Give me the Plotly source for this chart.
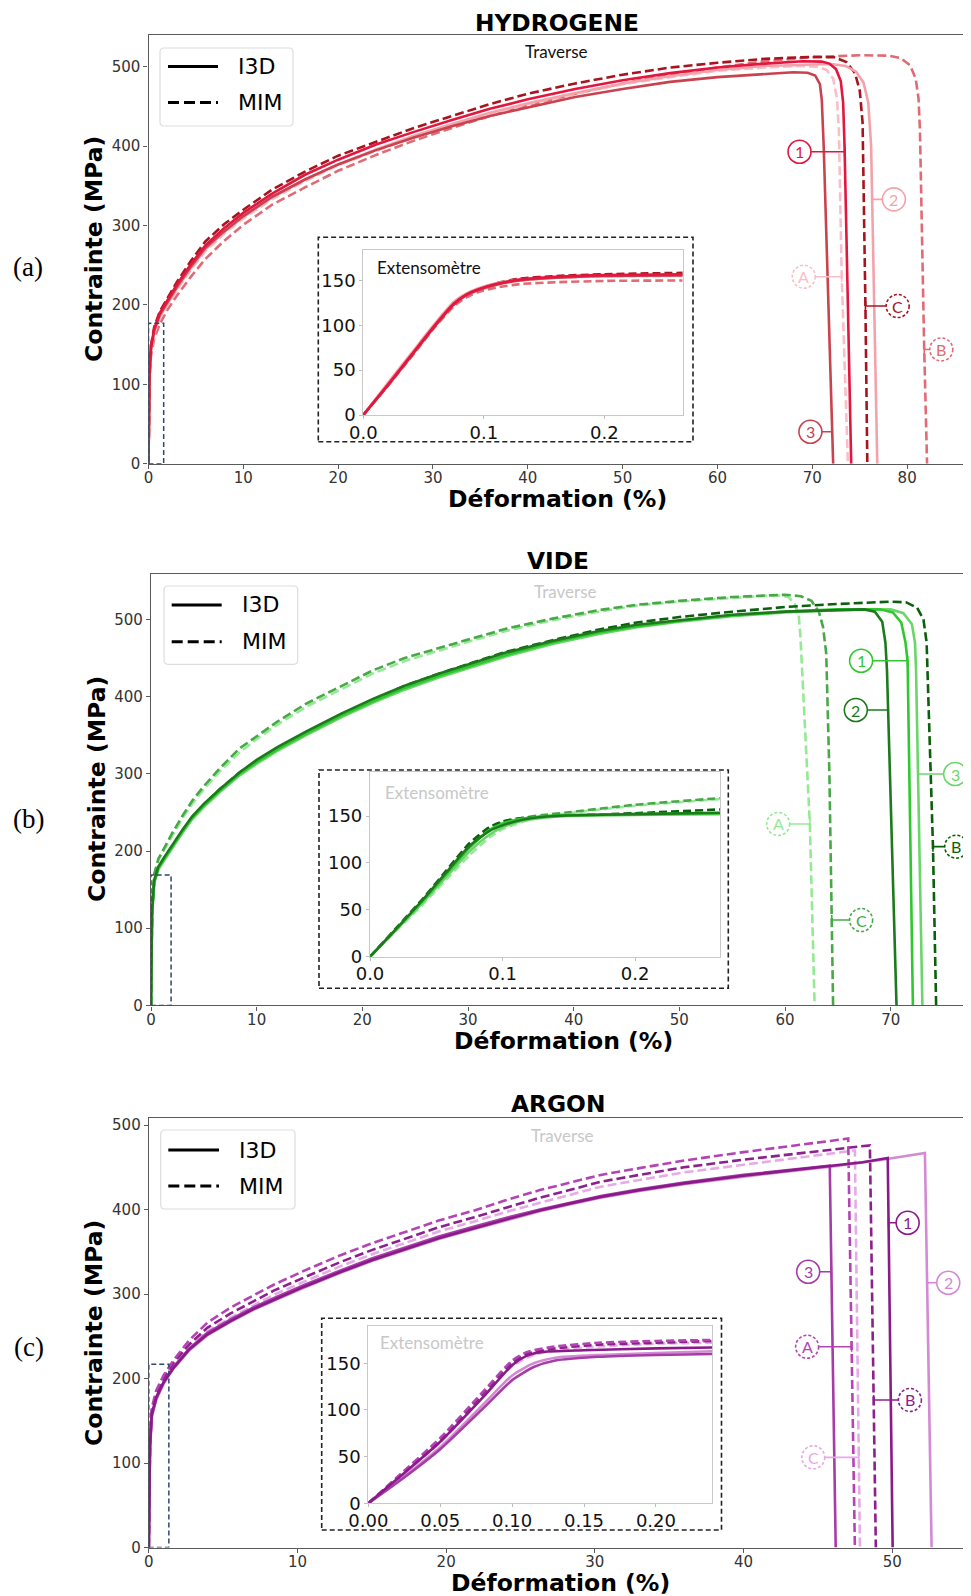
import numpy as np
import plotly.graph_objects as go

# target picture is 971 x 1596; the page body adds an 8 px margin, so the figure is
# drawn 8 px smaller and every reference position is shifted by that offset
REF_W, REF_H = 971, 1596
OFF = 8
W, H = REF_W - OFF, REF_H - OFF

# ---------------- DATA : HYDROGENE (a) ----------------
H_I3D_1 = [[0,0],[0.1,112],[0.25,146],[0.6,170],[1.2,190],[2,206],[3,226],[4.5,252],[6,275],[8,297],[10,316],[13,340],[16.5,364],[20,383],[24,402],[28,418],[32,433],[36,447],[40,459],[45,472],[50,483],[55,492],[60,499],[65,504],[69,507],[71,506.5],[71.8,504],[72.5,497],[73.0,482],[73.25,455],[73.4,400],[73.75,200],[74.1,0]]
H_I3D_2 = [[0,0],[0.1,108],[0.25,142],[0.6,166],[1.2,186],[2,202],[3,221],[4.5,247],[6,270],[8,292],[10,311],[13,335],[16.5,358],[20,377],[24,396],[28,413],[32,428],[36,442],[40,454],[45,467],[50,479],[55,488],[60,496],[65,501],[70,503],[72,503.5],[73.5,501],[74.6,494],[75.4,480],[75.9,455],[76.2,400],[76.3,333],[76.85,0]]
H_I3D_3 = [[0,0],[0.1,110],[0.25,144],[0.6,168],[1.2,188],[2,204],[3,223],[4.5,249],[6,272],[8,293],[10,312],[13,336],[16.5,358],[20,377],[24,395],[28,411],[32,425],[36,438],[40,449],[45,462],[50,472],[55,481],[60,487],[65,491],[68,493],[69.5,492.5],[70.3,489],[70.8,478],[71.0,458],[71.2,400],[72.2,0]]
H_MIM_A = [[0,0],[0.1,106],[0.25,140],[0.6,164],[1.2,184],[2,200],[3,219],[4.5,245],[6,268],[8,290],[10,309],[13,333],[16.5,356],[20,376],[24,394],[28,411],[32,426],[36,440],[40,453],[45,466],[50,478],[55,487],[60,495],[65,499],[68.5,501],[70.5,500],[71.5,496],[72.2,485],[72.6,460],[72.8,420],[73.1,236],[73.75,0]]
H_MIM_B = [[0,0],[0.1,100],[0.25,135],[0.6,158],[1.2,176],[2,194],[3,212],[4.5,236],[6,258],[8,281],[10,301],[13,326],[16.5,348],[20,369],[24,389],[28,407],[32,423],[36,438],[40,451],[45,466],[50,479],[55,490],[60,499],[65,507],[70,512],[75,514.5],[78,514],[79.3,511],[80.3,502],[80.9,485],[81.2,460],[81.35,420],[81.8,144],[82.1,0]]
H_MIM_C = [[0,0],[0.1,114],[0.25,148],[0.6,172],[1.2,192],[2,208],[3,229],[4.5,256],[6,280],[8,302],[10,320],[13,345],[16.5,368],[20,388],[24,406],[28,423],[32,438],[36,453],[40,466],[45,479],[50,490],[55,499],[60,505],[65,510],[70,512.5],[72.3,512],[73.6,506],[74.5,492],[75.0,470],[75.3,430],[75.6,199],[75.8,0]]

HI_I3D_1 = [[0,0],[0.02,33],[0.04,67],[0.06,101],[0.075,124],[0.085,134],[0.095,140],[0.11,146],[0.13,151],[0.16,154],[0.2,156],[0.265,157]]
HI_I3D_2 = [[0,0],[0.02,35],[0.04,69],[0.06,103],[0.075,126],[0.085,135],[0.095,141],[0.11,147],[0.13,151],[0.16,153],[0.2,155],[0.265,156]]
HI_I3D_3 = [[0,0],[0.02,32],[0.04,66],[0.06,100],[0.075,123],[0.085,133],[0.095,139],[0.11,145],[0.13,150],[0.16,153],[0.2,155],[0.265,155.5]]
HI_MIM_A = [[0,0],[0.02,34],[0.04,68],[0.06,102],[0.075,125],[0.085,134],[0.095,140],[0.11,146],[0.13,150],[0.16,153],[0.2,154.5],[0.265,155]]
HI_MIM_B = [[0,0],[0.02,32],[0.04,65],[0.06,99],[0.075,121],[0.085,131],[0.095,137],[0.11,142],[0.13,146],[0.16,148],[0.2,149.5],[0.265,150]]
HI_MIM_C = [[0,0],[0.02,33],[0.04,67],[0.06,101],[0.075,124],[0.085,134],[0.095,140],[0.11,147],[0.13,152],[0.16,155],[0.2,157],[0.265,158.5]]

# ---------------- DATA : VIDE (b) ----------------
V_I3D_1 = [[0,0],[0.1,120],[0.3,160],[0.7,178],[1.3,191],[2,206],[3,226],[3.9,243],[5,259],[6.5,278],[8.4,300],[10,315],[12,332],[14.7,352],[18,375],[21,394],[24,411],[27.3,427],[30.5,441],[33.6,454],[38,470],[42.4,483],[46,491],[50,498],[55,505],[60,510],[65,513],[69,513],[70.2,509],[71.0,496],[71.4,470],[71.6,446],[72.1,0]]
V_I3D_2 = [[0,0],[0.1,122],[0.3,162],[0.7,180],[1.3,193],[2,208],[3,228],[3.9,245],[5,261],[6.5,280],[8.4,302],[10,318],[12,335],[14.7,355],[18,378],[21,397],[24,414],[27.3,430],[30.5,444],[33.6,457],[38,472],[42.4,485],[46,493],[50,499],[55,506],[60,510],[65,512],[67.5,513],[68.5,510],[69.2,497],[69.5,470],[69.65,434],[70.55,0]]
V_I3D_3 = [[0,0],[0.1,118],[0.3,158],[0.7,176],[1.3,189],[2,204],[3,224],[3.9,241],[5,257],[6.5,276],[8.4,298],[10,313],[12,330],[14.7,350],[18,373],[21,392],[24,409],[27.3,425],[30.5,439],[33.6,452],[38,468],[42.4,481],[46,490],[50,497],[55,504],[60,509],[65,512],[70,513],[71.2,508],[72.0,494],[72.3,470],[72.4,434],[73.0,0]]
V_MIM_A = [[0,0],[0.1,125],[0.3,168],[0.7,188],[1.3,203],[2,220],[3,243],[3.95,262],[5,280],[6.5,303],[8.4,328],[10,345],[12,364],[14.7,387],[18,410],[21,430],[24,446],[27.3,460],[30.5,473],[33.6,485],[38,499],[42.4,510],[46,518],[50,523],[55,528],[58,530.5],[59.5,531],[60.3,529],[60.9,521],[61.3,505],[61.45,480],[62.35,235],[62.8,0]]
V_MIM_B = [[0,0],[0.1,120],[0.3,160],[0.7,178],[1.3,192],[2,207],[3,227],[3.9,244],[5,260],[6.5,280],[8.4,302],[10,317],[12,334],[14.7,354],[18,377],[21,396],[24,414],[27.3,430],[30.5,444],[33.6,458],[38,473],[42.4,487],[46,496],[50,503],[55,510],[60,516],[65,520],[70,523],[71.5,522],[72.5,515],[73.1,500],[73.4,470],[74.0,206],[74.3,0]]
V_MIM_C = [[0,0],[0.1,127],[0.3,170],[0.7,190],[1.3,205],[2,223],[3,246],[3.95,266],[5,284],[6.5,307],[8.4,333],[10,349],[12,368],[14.7,391],[18,414],[21,434],[24,450],[27.3,463],[30.5,476],[33.6,488],[38,501],[42.4,512],[46,519],[50,524],[55,529],[58,531],[60,532],[61.5,530],[62.5,524],[63.2,510],[63.6,490],[63.9,456],[64.2,300],[64.55,0]]

VI_I3D_1 = [[0,0],[0.02,30],[0.04,60],[0.06,92],[0.075,116],[0.09,135],[0.1,142],[0.11,146],[0.125,149],[0.15,151],[0.2,152],[0.264,153]]
VI_I3D_2 = [[0,0],[0.02,30],[0.04,61],[0.06,94],[0.075,118],[0.09,134],[0.1,140],[0.115,146],[0.13,149],[0.15,150.5],[0.2,152],[0.264,153.5]]
VI_I3D_3 = [[0,0],[0.02,29],[0.04,58],[0.06,89],[0.075,112],[0.09,130],[0.1,138],[0.115,145],[0.13,148],[0.15,150],[0.2,151],[0.264,152]]
VI_MIM_A = [[0,0],[0.02,28],[0.04,56],[0.06,86],[0.075,108],[0.09,127],[0.1,136],[0.115,144],[0.13,149],[0.15,153],[0.2,161],[0.264,168]]
VI_MIM_B = [[0,0],[0.02,31],[0.04,62],[0.06,96],[0.075,121],[0.09,138],[0.1,144],[0.11,147],[0.125,149],[0.15,150.5],[0.2,153],[0.264,157]]
VI_MIM_C = [[0,0],[0.02,30],[0.04,60],[0.06,93],[0.075,117],[0.09,136],[0.1,143],[0.115,148],[0.13,151],[0.15,154],[0.2,162],[0.264,169]]

# ---------------- DATA : ARGON (c) ----------------
A_I3D_1 = [[0,0],[0.08,120],[0.2,158],[0.5,178],[1,196],[1.68,213],[2.7,234],[3.93,252],[5.5,268],[7,282],[8.4,293],[10.5,309],[12.9,326],[15,340],[17.4,354],[19.5,366],[21.9,378],[24,388],[26.3,399],[28.3,407],[30.4,415],[33,423],[36,431],[40,440],[43,446],[46,452],[48,456],[49.7,461],[50.03,0]]
A_I3D_2 = [[0,0],[0.08,115],[0.2,154],[0.5,175],[1,194],[1.68,212],[2.7,233],[3.93,251],[5.5,267],[7,281],[8.4,292],[10.5,308],[12.9,325],[15,339],[17.4,353],[19.5,365],[21.9,377],[24,387],[26.3,398],[28.3,406],[30.4,414],[33,422],[36,430],[40,439],[43,445],[46,451],[49,458],[52.2,467],[52.65,0]]
A_I3D_3 = [[0,0],[0.08,118],[0.2,156],[0.5,176],[1,195],[1.68,214],[2.7,235],[3.93,254],[5.5,270],[7,284],[8.4,295],[10.5,311],[12.9,328],[15,342],[17.4,356],[19.5,368],[21.9,380],[24,390],[26.3,400],[28.3,408],[30.4,416],[33,424],[36,432],[40,441],[43,447],[45.8,452],[46.2,0]]
A_MIM_A = [[0,0],[0.08,125],[0.2,165],[0.5,186],[1,204],[1.68,222],[2.7,245],[3.93,266],[5.5,284],[7,298],[8.4,311],[10.5,328],[12.9,346],[15,360],[17.4,374],[19.5,387],[21.9,399],[24,411],[26.3,423],[28.3,432],[30.4,441],[33,449],[36,458],[40,468],[43,475],[47.04,484],[47.49,0]]
A_MIM_B = [[0,0],[0.08,122],[0.2,162],[0.5,183],[1,201],[1.68,219],[2.7,240],[3.93,260],[5.5,277],[7,291],[8.4,304],[10.5,320],[12.9,338],[15,352],[17.4,366],[19.5,379],[21.9,391],[24,402],[26.3,414],[28.3,423],[30.4,433],[33,441],[36,450],[40,459],[43,465],[46,471],[48.5,476],[48.9,0]]
A_MIM_C = [[0,0],[0.08,118],[0.2,158],[0.5,179],[1,197],[1.68,215],[2.7,236],[3.93,256],[5.5,272],[7,286],[8.4,299],[10.5,315],[12.9,333],[15,347],[17.4,361],[19.5,374],[21.9,386],[24,397],[26.3,408],[28.3,417],[30.4,427],[33,435],[36,444],[40,453],[43,460],[47.49,470],[47.83,0]]

AI_I3D_1 = [[0,0],[0.02,26],[0.05,66],[0.08,114],[0.1,148],[0.11,158],[0.12,162],[0.15,164],[0.2,166],[0.239,167]]
AI_I3D_2 = [[0,0],[0.02,23],[0.05,60],[0.08,106],[0.1,137],[0.115,150],[0.13,156],[0.16,159],[0.2,161],[0.239,163]]
AI_I3D_3 = [[0,0],[0.02,22],[0.05,58],[0.08,102],[0.1,132],[0.115,146],[0.13,153],[0.16,157],[0.2,159],[0.239,160]]
AI_MIM_A = [[0,0],[0.02,28],[0.05,70],[0.08,120],[0.1,153],[0.11,162],[0.13,168],[0.16,172],[0.2,174],[0.239,175]]
AI_MIM_B = [[0,0],[0.02,27],[0.05,68],[0.08,118],[0.1,151],[0.11,160],[0.13,166],[0.16,170],[0.2,172],[0.239,174]]
AI_MIM_C = [[0,0],[0.02,26],[0.05,65],[0.08,115],[0.1,147],[0.115,159],[0.13,164],[0.16,168],[0.2,171],[0.239,172]]

# tick labels
MAIN_Y_TICKS = [0, 100, 200, 300, 400, 500]
INSET_Y_TICKS = [0, 50, 100, 150]
INSET_X_TICKS_AB = [0.0, 0.1, 0.2]
INSET_X_TICKS_C = [0.0, 0.05, 0.10, 0.15, 0.20]

# colours
H_COL = {"1": "#e2163f", "2": "#f3a2ab", "3": "#c9434f", "A": "#f9bec7", "B": "#e06b74", "C": "#a8141e"}
V_COL = {"1": "#2fc82f", "2": "#1c7a1c", "3": "#6ad66a", "A": "#94ea94", "B": "#0b600b", "C": "#48a848"}
A_COL = {"1": "#8a1a88", "2": "#d38ad3", "3": "#a63ca6", "A": "#b444b4", "B": "#8c208c", "C": "#e6aae6"}

# label circle positions (strain, stress) per panel
H_LABELS = [("1", 68.65, 393), ("2", 78.6, 333), ("3", 69.8, 40.4), ("A", 69.1, 235.6), ("C", 79.0, 198.7), ("B", 83.6, 144)]
V_LABELS = [("1", 67.2, 446.5), ("2", 66.7, 382.6), ("3", 76.1, 299.7), ("A", 59.35, 235), ("C", 67.2, 110.6), ("B", 76.2, 205.6)]
A_LABELS = [("1", 51.04, 384.4), ("2", 53.77, 313.4), ("3", 44.35, 326.4), ("A", 44.28, 237.6), ("B", 51.19, 174.6), ("C", 44.69, 106.7)]

# zoom-area rectangles (strain max, stress max)
ZOOM_BOX = {"a": (1.6, 177), "b": (1.9, 169), "c": (1.35, 217)}

PANEL_TITLES = {"a": "HYDROGENE", "b": "VIDE", "c": "ARGON"}


def PX(x):
    return (x - OFF) / W


def PY(y):
    return 1 - (y - OFF) / H


panels = [
    dict(key="a", tag="(a)", xa="x", ya="y", xi="x2", yi="y2",
         main=dict(l=148.5, r=965, t=35, b=463.8, xr=86.1, yr=540, xt=list(range(0, 90, 10))),
         inset=dict(l=363.3, r=682.7, t=250, b=415, xr=0.265, yr=184, xt=INSET_X_TICKS_AB, fmt="%.1f"),
         dbox=(318.3, 693, 237.3, 441.7),
         leg=dict(l=160, r=293, t=48, b=126, ly1=66.5, ly2=102.5, lx0=168, lx1=218, tx=236),
         tpos=(557, 22), xlab=(557, 499), ylab=(94, 249), tag_pos=(28, 267),
         trav=(556, 52, "#111111"), ext=(375, 267, "#111111"),
         curves=[(H_MIM_B, "B", True), (H_MIM_A, "A", True), (H_MIM_C, "C", True),
                 (H_I3D_2, "2", False), (H_I3D_3, "3", False), (H_I3D_1, "1", False)],
         icurves=[(HI_MIM_B, "B", True), (HI_MIM_A, "A", True), (HI_MIM_C, "C", True),
                  (HI_I3D_2, "2", False), (HI_I3D_3, "3", False), (HI_I3D_1, "1", False)],
         col=H_COL, labels=H_LABELS, mirror_y=True),
    dict(key="b", tag="(b)", xa="x3", ya="y3", xi="x4", yi="y4",
         main=dict(l=151, r=971, t=574, b=1005.4, xr=77.6, yr=558.8, xt=list(range(0, 80, 10))),
         inset=dict(l=370, r=720, t=772.3, b=956.7, xr=0.264, yr=196.6, xt=INSET_X_TICKS_AB, fmt="%.1f"),
         dbox=(319, 728.3, 770, 988.3),
         leg=dict(l=164, r=297.7, t=586, b=664.3, ly1=605, ly2=641.7, lx0=171.7, lx1=221.7, tx=240),
         tpos=(558, 560), xlab=(563, 1041), ylab=(97, 789), tag_pos=(28.5, 819),
         trav=(565, 591, "#c8c8c8"), ext=(383, 792, "#c8c8c8"),
         curves=[(V_MIM_A, "A", True), (V_MIM_C, "C", True), (V_MIM_B, "B", True),
                 (V_I3D_3, "3", False), (V_I3D_1, "1", False), (V_I3D_2, "2", False)],
         icurves=[(VI_MIM_A, "A", True), (VI_MIM_C, "C", True), (VI_MIM_B, "B", True),
                  (VI_I3D_3, "3", False), (VI_I3D_1, "1", False), (VI_I3D_2, "2", False)],
         col=V_COL, labels=V_LABELS, mirror_y=False),
    dict(key="c", tag="(c)", xa="x5", ya="y5", xi="x6", yi="y6",
         main=dict(l=148.8, r=971, t=1118.3, b=1547.5, xr=55.3, yr=508, xt=list(range(0, 60, 10))),
         inset=dict(l=368.3, r=712.3, t=1326, b=1503.3, xr=0.2392, yr=190, xt=INSET_X_TICKS_C, fmt="%.2f"),
         dbox=(321.7, 721.5, 1318.3, 1530),
         leg=dict(l=160.7, r=295, t=1130, b=1209, ly1=1150, ly2=1186, lx0=168.3, lx1=219, tx=236.7),
         tpos=(558, 1103), xlab=(560, 1583), ylab=(94, 1333), tag_pos=(28.5, 1347),
         trav=(562, 1135, "#c8c8c8"), ext=(378, 1342, "#c8c8c8"),
         curves=[(A_MIM_C, "C", True), (A_MIM_B, "B", True), (A_MIM_A, "A", True),
                 (A_I3D_2, "2", False), (A_I3D_3, "3", False), (A_I3D_1, "1", False)],
         icurves=[(AI_MIM_C, "C", True), (AI_MIM_B, "B", True), (AI_MIM_A, "A", True),
                  (AI_I3D_2, "2", False), (AI_I3D_3, "3", False), (AI_I3D_1, "1", False)],
         col=A_COL, labels=A_LABELS, mirror_y=False),
]

fig = go.Figure()
shapes = []
annotations = []
layout = {}

SPINE = "#5a5a5a"
TICKFONT = dict(family="DejaVu Sans", size=15, color="#333333")
INSETFONT = dict(family="DejaVu Sans", size=18, color="#111111")
LABFONT = "Lato"


def axname(a):
    return "xaxis" + a[1:] if a.startswith("x") else "yaxis" + a[1:]


def drop_x(curve, stress):
    arr = np.array(curve, dtype=float)
    k = int(np.argmax(arr[:, 1]))
    seg = arr[k:]
    return float(np.interp(stress, seg[::-1, 1], seg[::-1, 0]))


def text(t, x, y, size, color="black", family="DejaVu Sans", anchor="center", angle=0):
    return dict(text=t, x=PX(x), y=PY(y), xref="paper", yref="paper", showarrow=False,
                xanchor=anchor, yanchor="middle", textangle=angle,
                font=dict(family=family, size=size, color=color))


for p in panels:
    m, ins = p["main"], p["inset"]
    over = max(0.0, m["r"] - OFF - W)
    layout[axname(p["xa"])] = dict(
        domain=[PX(m["l"]), min(1.0, PX(m["r"]))],
        range=[0, m["xr"] - over * m["xr"] / (m["r"] - m["l"])],
        anchor=p["ya"], automargin=False,
        tickvals=m["xt"], ticks="outside", ticklen=4, tickcolor=SPINE, tickwidth=1,
        ticklabelstandoff=-4,
        showline=True, linecolor=SPINE, linewidth=1.2, mirror=True,
        showgrid=False, zeroline=False, tickfont=TICKFONT)
    layout[axname(p["ya"])] = dict(
        domain=[PY(m["b"]), PY(m["t"])], range=[0, m["yr"]], anchor=p["xa"], automargin=False,
        tickvals=MAIN_Y_TICKS, ticks="outside", ticklen=4, tickcolor=SPINE, tickwidth=1,
        showline=True, linecolor=SPINE, linewidth=1.2, mirror=p["mirror_y"],
        showgrid=False, zeroline=False, tickfont=TICKFONT)
    layout[axname(p["xi"])] = dict(
        domain=[PX(ins["l"]), PX(ins["r"])], range=[0, ins["xr"]], anchor=p["yi"], automargin=False,
        tickvals=ins["xt"], ticktext=[ins["fmt"] % v for v in ins["xt"]],
        ticks="outside", ticklen=3, tickcolor="#bdbdbd", ticklabelstandoff=-2,
        showline=True, linecolor="#c8c8c8", linewidth=1.2, mirror=True,
        showgrid=False, zeroline=False, tickfont=INSETFONT)
    layout[axname(p["yi"])] = dict(
        domain=[PY(ins["b"]), PY(ins["t"])], range=[0, ins["yr"]], anchor=p["xi"], automargin=False,
        tickvals=INSET_Y_TICKS, ticks="outside", ticklen=3, tickcolor="#bdbdbd",
        showline=True, linecolor="#c8c8c8", linewidth=1.2, mirror=True,
        showgrid=False, zeroline=False, tickfont=INSETFONT)

    for cv, lab, dashed in p["curves"]:
        arr = np.array(cv, dtype=float)
        fig.add_trace(go.Scatter(x=arr[:, 0], y=arr[:, 1], mode="lines", xaxis=p["xa"], yaxis=p["ya"],
                                 line=dict(color=p["col"][lab], width=2.6, dash="9px,4px" if dashed else "solid"),
                                 showlegend=False, hoverinfo="skip"))
    for cv, lab, dashed in p["icurves"]:
        arr = np.array(cv, dtype=float)
        fig.add_trace(go.Scatter(x=arr[:, 0], y=arr[:, 1], mode="lines", xaxis=p["xi"], yaxis=p["yi"],
                                 line=dict(color=p["col"][lab], width=2.6, dash="8px,4px" if dashed else "solid",
                                           shape="spline", smoothing=0.6),
                                 showlegend=False, hoverinfo="skip"))

    zx, zy = ZOOM_BOX[p["key"]]
    shapes.append(dict(type="rect", xref=p["xa"], yref=p["ya"], x0=0, x1=zx, y0=0, y1=zy,
                       line=dict(color="#2f4570", width=1.5, dash="5px,3px"), layer="above"))
    l, r, t, b = p["dbox"]
    shapes.append(dict(type="rect", xref="paper", yref="paper", x0=PX(l), x1=PX(r), y0=PY(b), y1=PY(t),
                       line=dict(color="#222222", width=1.6, dash="5px,3px"), layer="above"))

    lg = p["leg"]
    rx, ry = 4 / W, 4 / H
    x0, x1, y0, y1 = PX(lg["l"]), PX(lg["r"]), PY(lg["b"]), PY(lg["t"])
    path = (f"M {x0+rx},{y0} L {x1-rx},{y0} Q {x1},{y0} {x1},{y0+ry} L {x1},{y1-ry} Q {x1},{y1} {x1-rx},{y1} "
            f"L {x0+rx},{y1} Q {x0},{y1} {x0},{y1-ry} L {x0},{y0+ry} Q {x0},{y0} {x0+rx},{y0} Z")
    shapes.append(dict(type="path", xref="paper", yref="paper", path=path,
                       line=dict(color="#dddddd", width=1.2), fillcolor="rgba(255,255,255,0.85)", layer="above"))
    shapes.append(dict(type="line", xref="paper", yref="paper", x0=PX(lg["lx0"]), x1=PX(lg["lx1"]),
                       y0=PY(lg["ly1"]), y1=PY(lg["ly1"]), line=dict(color="black", width=3), layer="above"))
    shapes.append(dict(type="line", xref="paper", yref="paper", x0=PX(lg["lx0"]), x1=PX(lg["lx1"]),
                       y0=PY(lg["ly2"]), y1=PY(lg["ly2"]), line=dict(color="black", width=3, dash="11px,5px"),
                       layer="above"))
    annotations.append(text("I3D", lg["tx"], lg["ly1"], 22, anchor="left"))
    annotations.append(text("MIM", lg["tx"], lg["ly2"], 22, anchor="left"))

    curve_by_lab = {lab: cv for cv, lab, _ in p["curves"]}
    for lab, cx, cy in p["labels"]:
        col = p["col"][lab]
        dashed = lab in "ABC"
        ex = drop_x(curve_by_lab[lab], cy)
        shapes.append(dict(type="line", xref=p["xa"], yref=p["ya"], x0=ex, x1=cx, y0=cy, y1=cy,
                           line=dict(color=col, width=1.6), layer="above"))
        shapes.append(dict(type="line", xref=p["xa"], yref=p["ya"], x0=ex, x1=ex, ysizemode="pixel", yanchor=cy,
                           y0=-5, y1=5, line=dict(color=col, width=1.6), layer="above"))
        shapes.append(dict(type="circle", xref=p["xa"], yref=p["ya"], xsizemode="pixel", ysizemode="pixel",
                           xanchor=cx, yanchor=cy, x0=-11.5, x1=11.5, y0=-11.5, y1=11.5,
                           line=dict(color=col, width=1.6, dash="3px,2px" if dashed else "solid"),
                           fillcolor="white", layer="above"))
        annotations.append(dict(text=lab, x=cx, y=cy, xref=p["xa"], yref=p["ya"], showarrow=False,
                                xanchor="center", yanchor="middle",
                                font=dict(family=LABFONT, size=16, color=col)))

    annotations.append(text("<b>%s</b>" % PANEL_TITLES[p["key"]], p["tpos"][0], p["tpos"][1], 23.3))
    annotations.append(text("<b>Déformation (%)</b>", p["xlab"][0], p["xlab"][1], 23.5))
    annotations.append(text("<b>Contrainte (MPa)</b>", p["ylab"][0], p["ylab"][1], 23.5, angle=-90))
    annotations.append(text(p["tag"], p["tag_pos"][0], p["tag_pos"][1], 27, family="Liberation Serif"))
    annotations.append(text("Traverse", p["trav"][0], p["trav"][1], 17, color=p["trav"][2], family=LABFONT))
    annotations.append(text("Extensomètre", p["ext"][0], p["ext"][1], 17, color=p["ext"][2],
                            family=LABFONT, anchor="left"))

fig.update_layout(
    width=W, height=H, margin=dict(l=0, r=0, t=0, b=0, autoexpand=False),
    paper_bgcolor="white", plot_bgcolor="white", showlegend=False,
    shapes=shapes, annotations=annotations, **layout)

fig.write_html("out.html")
